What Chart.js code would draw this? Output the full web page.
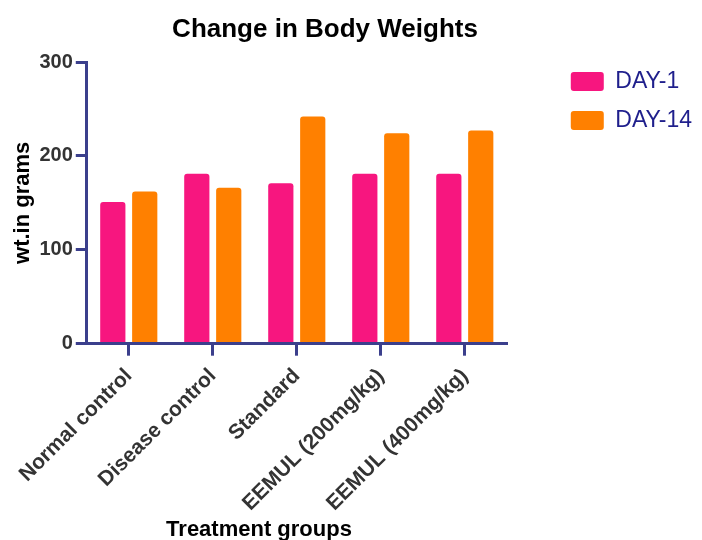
<!DOCTYPE html>
<html>
<head>
<meta charset="utf-8">
<script src="https://cdn.jsdelivr.net/npm/chart.js@4"></script>
<style>
  html, body { margin: 0; padding: 0; background: #fff; }
  #wrap { width: 702px; height: 540px; position: relative; }
</style>
</head>
<body>
<div id="wrap"><canvas id="bodyWeights"></canvas></div>
<script>
// Change in body weights (grams) per treatment group
const groups = ['Normal control', 'Disease control', 'Standard', 'EEMUL (200mg/kg)', 'EEMUL (400mg/kg)'];
const day1  = [151, 181, 171, 181, 181];
const day14 = [162, 166, 242, 224, 227];
const yTicks = [0, 100, 200, 300];

const AXIS = '#3b3f8c';
const FONT = "'Liberation Sans', Arial, sans-serif";

// title + x title are drawn off-centre in the original, so place them by hand
const offsetTitles = {
  id: 'offsetTitles',
  afterDraw(chart) {
    const ctx = chart.ctx;
    ctx.save();
    ctx.textAlign = 'center';
    ctx.textBaseline = 'alphabetic';
    ctx.fillStyle = '#000';
    ctx.font = 'bold 26px ' + FONT;
    ctx.fillText('Change in Body Weights', 325, 37);
    ctx.font = 'bold 22px ' + FONT;
    ctx.fillText('Treatment groups', 259, 536);
    ctx.restore();
  }
};

new Chart(document.getElementById('bodyWeights'), {
  type: 'bar',
  data: {
    labels: groups,
    datasets: [
      { label: 'DAY-1', data: day1, backgroundColor: '#f7167f', borderRadius: 3, borderWidth: 0,
        categoryPercentage: 0.76, barPercentage: 0.79 },
      { label: 'DAY-14', data: day14, backgroundColor: '#ff8000', borderRadius: 3, borderWidth: 0,
        categoryPercentage: 0.76, barPercentage: 0.79 }
    ]
  },
  options: {
    responsive: true,
    maintainAspectRatio: false,
    animation: false,
    layout: { padding: { top: 54, left: 0, right: 0, bottom: 16 } },
    plugins: {
      title: { display: false },
      tooltip: { enabled: false },
      legend: {
        position: 'right',
        align: 'start',
        maxWidth: 180,
        labels: {
          boxWidth: 33, boxHeight: 19, padding: 16,
          useBorderRadius: true, borderRadius: 3,
          color: '#1f1f8c',
          font: { family: FONT, size: 23 }
        }
      }
    },
    scales: {
      x: {
        offset: true,
        grid: { offset: false, drawOnChartArea: false, drawTicks: true, tickLength: 12, color: AXIS, lineWidth: 3 },
        border: { display: true, color: AXIS, width: 3, z: 1 },
        ticks: { minRotation: 45, maxRotation: 45, padding: 8, color: '#333', font: { family: FONT, size: 21, weight: 'bold' } }
      },
      y: {
        min: 0, max: 300,
        afterBuildTicks: s => { s.ticks = yTicks.map(v => ({ value: v })); },
        grid: { drawOnChartArea: false, drawTicks: true, tickLength: 11, color: AXIS, lineWidth: 3 },
        border: { display: true, color: AXIS, width: 3, z: 1 },
        ticks: { padding: 3, color: '#333', font: { family: FONT, size: 20, weight: 'bold' } },
        title: { display: true, text: 'wt.in grams', color: '#000', padding: { top: 10, bottom: 0 },
                 font: { family: FONT, size: 22, weight: 'bold' } }
      },
      // spacer boxes: gap above the plot and between plot and legend
      padTop: {
        type: 'linear', position: 'top', display: true,
        grid: { display: false }, border: { display: false }, ticks: { display: false },
        afterFit: s => { s.height = 8; }
      },
      padRight: {
        type: 'linear', position: 'right', display: true,
        grid: { display: false }, border: { display: false }, ticks: { display: false },
        afterFit: s => { s.width = 48; }
      }
    }
  },
  plugins: [offsetTitles]
});
</script>
</body>
</html>
